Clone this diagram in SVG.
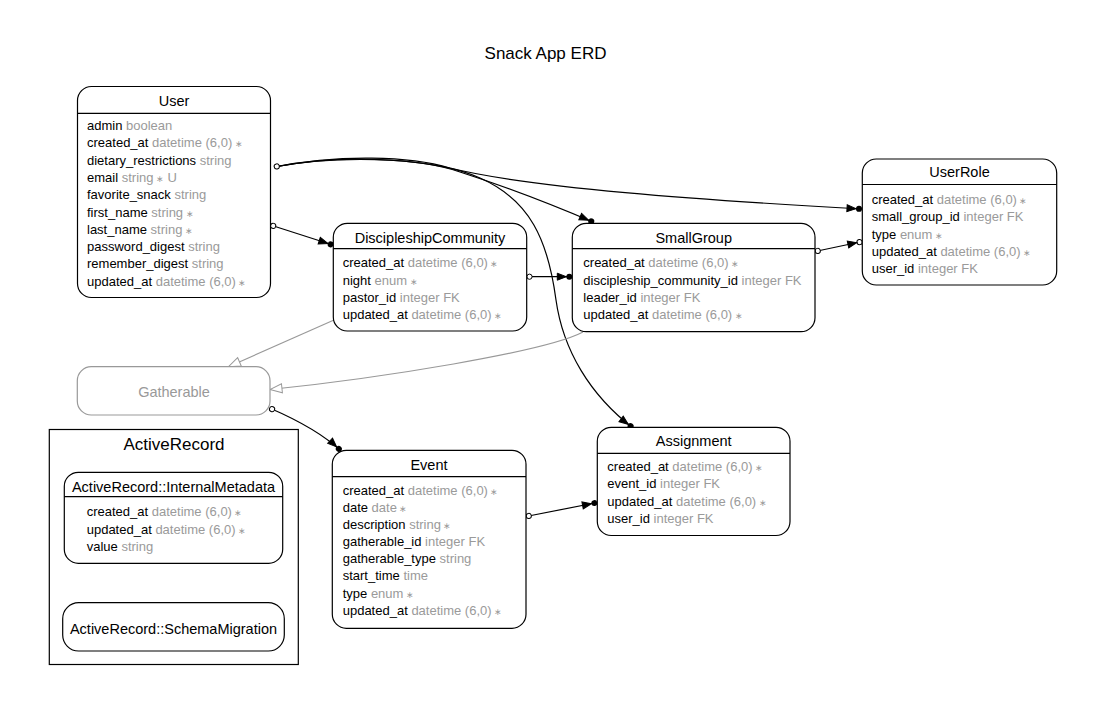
<svg xmlns="http://www.w3.org/2000/svg" width="1093" height="715" viewBox="0 0 1093 715">
<style>
text{font-family:"Liberation Sans",Arial,Helvetica,sans-serif;fill:#000}
.title{font-size:17px}
.hdr{font-size:14.5px;text-anchor:middle}
.row{font-size:13px}
.t{fill:#9a9a9a}
.s{fill:#9a9a9a;font-size:9px}
.box{fill:#fff;stroke:#000;stroke-width:1.2}
.sep{stroke:#000;stroke-width:1.2}
.edge{fill:none;stroke:#000;stroke-width:1.2}
.poly{fill:none;stroke:#999;stroke-width:1.1}
.gbox{fill:#fff;stroke:#999;stroke-width:1.2}
</style>
<defs>
<marker id="dotnormal" markerUnits="userSpaceOnUse" viewBox="-16 -5 17 10" markerWidth="17" markerHeight="10" refX="0" refY="0" orient="auto">
<circle cx="-3" cy="0" r="3" fill="#000"/>
<path d="M-6,0 L-15,-3.5 L-15,3.5 Z" fill="#000" stroke="#000" stroke-width="1"/>
</marker>
<marker id="odotnormal" markerUnits="userSpaceOnUse" viewBox="-16 -5 17 10" markerWidth="17" markerHeight="10" refX="0" refY="0" orient="auto">
<circle cx="-2.8" cy="0" r="2.6" fill="#fff" stroke="#000" stroke-width="1"/>
<path d="M-5.6,0 L-14.6,-3.5 L-14.6,3.5 Z" fill="#000" stroke="#000" stroke-width="1"/>
</marker>
<marker id="odot" markerUnits="userSpaceOnUse" viewBox="-1 -4 8 8" markerWidth="8" markerHeight="8" refX="0" refY="0" orient="auto">
<circle cx="2.8" cy="0" r="2.6" fill="#fff" stroke="#000" stroke-width="1"/>
</marker>
<marker id="hollow" markerUnits="userSpaceOnUse" viewBox="-14 -6 15 12" markerWidth="15" markerHeight="12" refX="0" refY="0" orient="auto">
<path d="M0,0 L-12,-4.5 L-12,4.5 Z" fill="#fff" stroke="#999" stroke-width="1"/>
</marker>
</defs>
<rect width="1093" height="715" fill="#fff"/>
<text class="title" x="545.5" y="58.5" text-anchor="middle">Snack App ERD</text>

<g id="cluster_ActiveRecord">
<rect x="49.3" y="429.5" width="249" height="235" fill="#fff" stroke="#000" stroke-width="1.2"/>
<text x="174" y="450" text-anchor="middle" style="font-size:17px">ActiveRecord</text>
</g>

<g id="connectors">
<path class="edge" d="M274,167 C340,154 410,156 450,168 C530,188 700,200 862,209" marker-end="url(#dotnormal)"/>
<path class="edge" d="M274,167 C340,155 420,158 460,172 C510,188 560,208 594,222.5" marker-end="url(#dotnormal)"/>
<path class="edge" d="M274,167 C350,152 440,160 480,178 C530,200 548,240 556,300 C563,350 590,395 633,428" marker-start="url(#odot)" marker-end="url(#dotnormal)"/>
<path class="edge" d="M270.5,225 L333.5,245.3" marker-start="url(#odot)" marker-end="url(#dotnormal)"/>
<path class="edge" d="M526.7,276.7 L572.3,276.7" marker-start="url(#odot)" marker-end="url(#dotnormal)"/>
<path class="edge" d="M815,251.5 L862.3,241.5" marker-start="url(#odot)" marker-end="url(#odotnormal)"/>
<path class="edge" d="M526,516.5 L597.3,502.5" marker-start="url(#odot)" marker-end="url(#dotnormal)"/>
<path class="edge" d="M269.5,408 C295,419 322,433 341,451" marker-start="url(#odot)" marker-end="url(#dotnormal)"/>
<path class="poly" d="M334,320 L228.5,366.7" marker-end="url(#hollow)"/>
<path class="poly" d="M583,332 C545,352 380,378 270,389.5" marker-end="url(#hollow)"/>
</g>

<g id="node_User">
<rect class="box" x="77.5" y="86.5" width="193" height="211" rx="14"/>
<line class="sep" x1="77.5" y1="113.3" x2="270.5" y2="113.3"/>
<text class="hdr" x="174" y="106">User</text>
<text class="row" x="87" y="130.3">admin<tspan class="t"> boolean</tspan></text>
<text class="row" x="87" y="147.4">created_at<tspan class="t"> datetime (6,0)</tspan><tspan class="s"> ∗</tspan></text>
<text class="row" x="87" y="164.6">dietary_restrictions<tspan class="t"> string</tspan></text>
<text class="row" x="87" y="181.9">email<tspan class="t"> string</tspan><tspan class="s"> ∗</tspan><tspan class="t"> U</tspan></text>
<text class="row" x="87" y="199.4">favorite_snack<tspan class="t"> string</tspan></text>
<text class="row" x="87" y="216.6">first_name<tspan class="t"> string</tspan><tspan class="s"> ∗</tspan></text>
<text class="row" x="87" y="233.9">last_name<tspan class="t"> string</tspan><tspan class="s"> ∗</tspan></text>
<text class="row" x="87" y="251.2">password_digest<tspan class="t"> string</tspan></text>
<text class="row" x="87" y="268.4">remember_digest<tspan class="t"> string</tspan></text>
<text class="row" x="87" y="286">updated_at<tspan class="t"> datetime (6,0)</tspan><tspan class="s"> ∗</tspan></text>
</g>

<g id="node_DiscipleshipCommunity">
<rect class="box" x="333.3" y="223.3" width="193.4" height="107.7" rx="14"/>
<line class="sep" x1="333.3" y1="248.7" x2="526.7" y2="248.7"/>
<text class="hdr" x="430" y="243">DiscipleshipCommunity</text>
<text class="row" x="342.7" y="267.2">created_at<tspan class="t"> datetime (6,0)</tspan><tspan class="s"> ∗</tspan></text>
<text class="row" x="342.7" y="284.5">night<tspan class="t"> enum</tspan><tspan class="s"> ∗</tspan></text>
<text class="row" x="342.7" y="301.8">pastor_id<tspan class="t"> integer FK</tspan></text>
<text class="row" x="342.7" y="318.9">updated_at<tspan class="t"> datetime (6,0)</tspan><tspan class="s"> ∗</tspan></text>
</g>

<g id="node_SmallGroup">
<rect class="box" x="572.3" y="223.3" width="242.7" height="108.4" rx="14"/>
<line class="sep" x1="572.3" y1="248.7" x2="815" y2="248.7"/>
<text class="hdr" x="693.7" y="243">SmallGroup</text>
<text class="row" x="583.3" y="267.2">created_at<tspan class="t"> datetime (6,0)</tspan><tspan class="s"> ∗</tspan></text>
<text class="row" x="583.3" y="284.5">discipleship_community_id<tspan class="t"> integer FK</tspan></text>
<text class="row" x="583.3" y="301.8">leader_id<tspan class="t"> integer FK</tspan></text>
<text class="row" x="583.3" y="318.9">updated_at<tspan class="t"> datetime (6,0)</tspan><tspan class="s"> ∗</tspan></text>
</g>

<g id="node_UserRole">
<rect class="box" x="862.3" y="159" width="194.4" height="126" rx="14"/>
<line class="sep" x1="862.3" y1="184.5" x2="1056.7" y2="184.5"/>
<text class="hdr" x="959.5" y="177">UserRole</text>
<text class="row" x="871.7" y="204.3">created_at<tspan class="t"> datetime (6,0)</tspan><tspan class="s"> ∗</tspan></text>
<text class="row" x="871.7" y="221.3">small_group_id<tspan class="t"> integer FK</tspan></text>
<text class="row" x="871.7" y="238.8">type<tspan class="t"> enum</tspan><tspan class="s"> ∗</tspan></text>
<text class="row" x="871.7" y="256.1">updated_at<tspan class="t"> datetime (6,0)</tspan><tspan class="s"> ∗</tspan></text>
<text class="row" x="871.7" y="272.8">user_id<tspan class="t"> integer FK</tspan></text>
</g>

<g id="node_Gatherable">
<rect class="gbox" x="77.3" y="366.7" width="192.7" height="48.3" rx="14"/>
<text class="hdr" x="174" y="397" style="fill:#999">Gatherable</text>
</g>

<g id="node_ActiveRecord_InternalMetadata">
<rect class="box" x="64.3" y="472.3" width="218.4" height="91" rx="14"/>
<line class="sep" x1="64.3" y1="496.7" x2="282.7" y2="496.7"/>
<text class="hdr" x="173.5" y="491.5">ActiveRecord::InternalMetadata</text>
<text class="row" x="86.7" y="516.2">created_at<tspan class="t"> datetime (6,0)</tspan><tspan class="s"> ∗</tspan></text>
<text class="row" x="86.7" y="533.8">updated_at<tspan class="t"> datetime (6,0)</tspan><tspan class="s"> ∗</tspan></text>
<text class="row" x="86.7" y="551.2">value<tspan class="t"> string</tspan></text>
</g>

<g id="node_ActiveRecord_SchemaMigration">
<rect class="box" x="62.7" y="602.7" width="221.6" height="48.3" rx="16"/>
<text class="hdr" x="173.5" y="634">ActiveRecord::SchemaMigration</text>
</g>

<g id="node_Event">
<rect class="box" x="332.3" y="450.3" width="193.7" height="178" rx="14"/>
<line class="sep" x1="332.3" y1="476.7" x2="526" y2="476.7"/>
<text class="hdr" x="429" y="469.5">Event</text>
<text class="row" x="342.7" y="495.2">created_at<tspan class="t"> datetime (6,0)</tspan><tspan class="s"> ∗</tspan></text>
<text class="row" x="342.7" y="511.5">date<tspan class="t"> date</tspan><tspan class="s"> ∗</tspan></text>
<text class="row" x="342.7" y="528.6">description<tspan class="t"> string</tspan><tspan class="s"> ∗</tspan></text>
<text class="row" x="342.7" y="546.1">gatherable_id<tspan class="t"> integer FK</tspan></text>
<text class="row" x="342.7" y="563">gatherable_type<tspan class="t"> string</tspan></text>
<text class="row" x="342.7" y="580">start_time<tspan class="t"> time</tspan></text>
<text class="row" x="342.7" y="597.6">type<tspan class="t"> enum</tspan><tspan class="s"> ∗</tspan></text>
<text class="row" x="342.7" y="614.5">updated_at<tspan class="t"> datetime (6,0)</tspan><tspan class="s"> ∗</tspan></text>
</g>

<g id="node_Assignment">
<rect class="box" x="597.3" y="427.3" width="192.7" height="108.2" rx="14"/>
<line class="sep" x1="597.3" y1="453.3" x2="790" y2="453.3"/>
<text class="hdr" x="693.7" y="446">Assignment</text>
<text class="row" x="607.3" y="471.2">created_at<tspan class="t"> datetime (6,0)</tspan><tspan class="s"> ∗</tspan></text>
<text class="row" x="607.3" y="487.8">event_id<tspan class="t"> integer FK</tspan></text>
<text class="row" x="607.3" y="505.5">updated_at<tspan class="t"> datetime (6,0)</tspan><tspan class="s"> ∗</tspan></text>
<text class="row" x="607.3" y="522.8">user_id<tspan class="t"> integer FK</tspan></text>
</g>
</svg>
